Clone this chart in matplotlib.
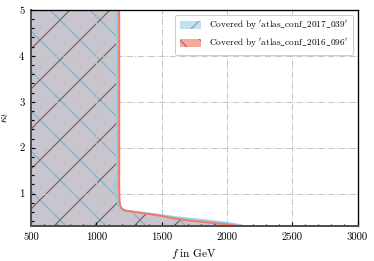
import numpy as np
import matplotlib
matplotlib.use("Agg")
import matplotlib.pyplot as plt
from matplotlib.patches import Patch

# kappa grid shared by both exclusion boundaries
kappa = np.array([0.30, 0.33, 0.37, 0.42, 0.47, 0.52, 0.56, 0.60, 0.63, 0.66,
                  0.70, 0.75, 0.85, 1.00, 1.10, 1.15, 1.20, 1.25, 1.35, 1.50,
                  1.75, 2.00, 2.50, 3.00, 3.50, 4.00, 4.50, 4.70, 5.00])
# boundary in f (GeV) for atlas_conf_2017_039
f_2017 = np.array([2120, 2070, 1980, 1820, 1650, 1520, 1420, 1310, 1225, 1195,
                   1180, 1170, 1163, 1160, 1150, 1135, 1128, 1150, 1160, 1163,
                   1160, 1158, 1162, 1158, 1160, 1158, 1160, 1150, 1160])
# boundary in f (GeV) for atlas_conf_2016_096
f_2016 = np.array([2080, 2000, 1860, 1690, 1570, 1490, 1390, 1290, 1220, 1200,
                   1190, 1182, 1178, 1176, 1176, 1175, 1175, 1175, 1175, 1175,
                   1175, 1175, 1175, 1175, 1175, 1175, 1175, 1175, 1175])
labels = [r"$\mathrm{Covered\ by\ }'\mathrm{atlas\_conf\_2017\_039}'$",
          r"$\mathrm{Covered\ by\ }'\mathrm{atlas\_conf\_2016\_096}'$"]

plt.rcParams['font.family'] = 'cmr10'
plt.rcParams['mathtext.fontset'] = 'cm'
plt.rcParams['axes.unicode_minus'] = False
plt.rcParams['hatch.linewidth'] = 0.35

DPI = 240
fig = plt.figure(figsize=(374 / DPI, 261 / DPI), dpi=DPI)
ax = fig.add_axes([0.083, 0.135, 0.873, 0.827])

# base fills
ax.fill_betweenx(kappa, 500, f_2017, facecolor='#bfe3f1', lw=0, zorder=1)
ax.fill_betweenx(kappa, 500, f_2016, facecolor='#f7aa9c', lw=0, zorder=1)
ax.fill_betweenx(kappa, 500, np.minimum(f_2017, f_2016), facecolor='#c9c5ce', lw=0, zorder=1.1)
# hatches
ax.fill_betweenx(kappa, 500, f_2017, facecolor='none', edgecolor='#7fb2c8',
                 hatch='\\\\', lw=0, zorder=1.2)
ax.fill_betweenx(kappa, 500, f_2016, facecolor='none', edgecolor='#7e5a5a',
                 hatch='//', lw=0, zorder=1.2)
# boundaries
ax.plot(f_2017, kappa, color='#8ed0ea', lw=0.6, zorder=3)
ax.plot(f_2016, kappa, color='#f47a66', lw=0.6, zorder=3)

ax.set_xlim(500, 3000)
ax.set_ylim(0.3, 5)
ax.set_xticks([500, 1000, 1500, 2000, 2500, 3000])
ax.set_xticks(np.arange(500, 3001, 100), minor=True)
ax.set_yticks([1, 2, 3, 4, 5])
ax.set_yticks(np.arange(0.4, 5.01, 0.2), minor=True)
ax.tick_params(which='both', direction='in', labelsize=3.2, width=0.35, pad=2)
ax.tick_params(which='major', length=1.3)
ax.tick_params(which='minor', length=0.75)
ax.grid(True, which='major', color='#c4c4c4', ls='-.', lw=0.3, zorder=2)
ax.set_axisbelow(False)
for s in ax.spines.values():
    s.set_linewidth(0.4)
    s.set_zorder(4)
for side in ('left', 'bottom'):
    ax.spines[side].set_linewidth(0.6)
    ax.spines[side].set_color('#505050')

ax.set_xlabel(r"$f\ \mathrm{in\ GeV}$", fontsize=3.4, labelpad=1.5)
ax.set_ylabel(r"$\kappa_t$", fontsize=3.4, labelpad=2.5)

handles = [Patch(facecolor='#bfe3f1', edgecolor='#8a9aa5', hatch='////', lw=0),
           Patch(facecolor='#f7aa9c', edgecolor='#8a7570', hatch='\\\\\\\\', lw=0)]
leg = ax.legend(handles, labels, loc='upper right', fontsize=2.8, frameon=True,
                fancybox=True, edgecolor='#cccccc', framealpha=1,
                handlelength=2.2, handleheight=0.9, borderpad=0.5,
                labelspacing=0.5, handletextpad=0.9, borderaxespad=0.5)
leg.get_frame().set_linewidth(0.3)

fig.savefig('out.png', dpi=DPI)
